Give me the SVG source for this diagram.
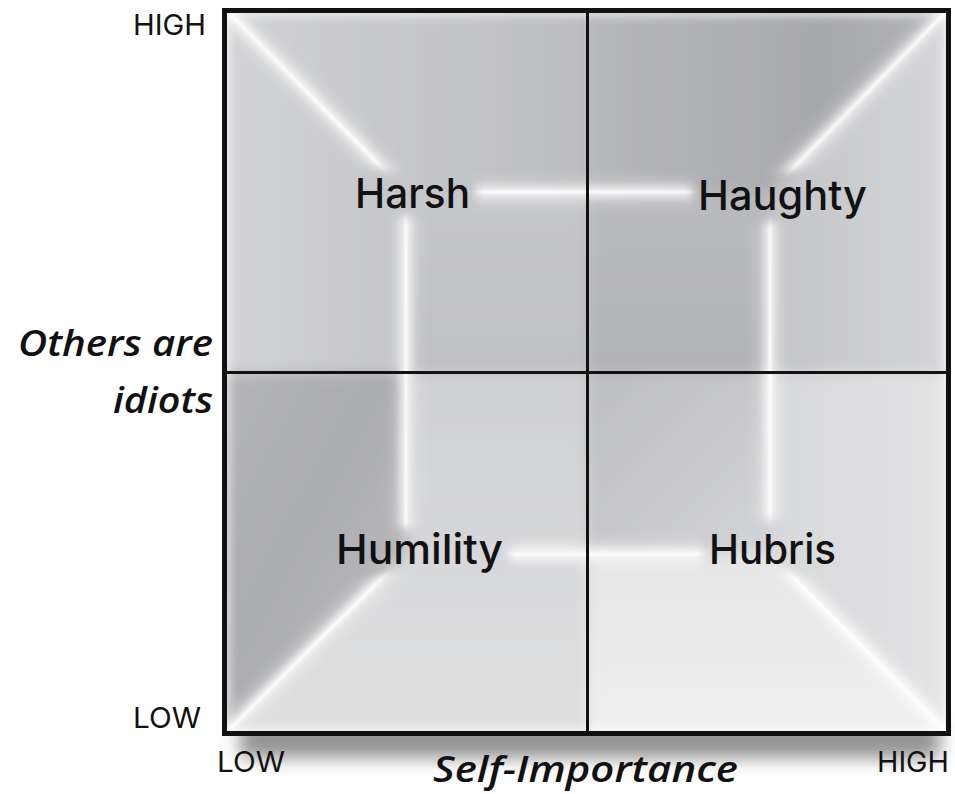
<svg xmlns="http://www.w3.org/2000/svg" width="955" height="794" viewBox="0 0 955 794">
  <style>
    .ax { font-family: "Inter", "Lato", "Liberation Sans", sans-serif; font-size: 29px; font-weight: 400; fill: #111; }
    .q { font-family: "Inter", "Lato", "Liberation Sans", sans-serif; font-size: 41px; font-weight: 500; fill: #111; }
    .tt { font-family: "Open Sans", "Lato", "Liberation Sans", sans-serif; font-size: 36px; font-style: italic; font-weight: 600; fill: #111; }
    .wide { stroke: #ffffff; stroke-width: 22; opacity: 0.3; fill: none; }
    .glow { stroke: #ffffff; stroke-width: 9; opacity: 0.8; fill: none; }
    .core { stroke: #ffffff; stroke-width: 2.4; fill: none; }
    .grid { stroke: #111; fill: none; }
  </style>
  <defs>
    <clipPath id="box"><rect x="226" y="12" width="721" height="720"/></clipPath>
    <filter id="soft" x="-10%" y="-10%" width="120%" height="120%"><feGaussianBlur stdDeviation="7"/></filter>
    <filter id="blur8" x="-20%" y="-20%" width="140%" height="140%"><feGaussianBlur stdDeviation="8"/></filter>
    <filter id="blur4" x="-20%" y="-20%" width="140%" height="140%"><feGaussianBlur stdDeviation="4"/></filter>
    <filter id="blur2" x="-20%" y="-20%" width="140%" height="140%"><feGaussianBlur stdDeviation="1"/></filter>
    <filter id="shadow" x="-20%" y="-100%" width="140%" height="300%"><feGaussianBlur stdDeviation="9"/></filter>
    <filter id="holeblur" x="-30%" y="-60%" width="160%" height="220%"><feGaussianBlur stdDeviation="5"/></filter>
    <mask id="lineMask" maskUnits="userSpaceOnUse" x="0" y="0" width="955" height="794">
      <rect x="0" y="0" width="955" height="794" fill="#fff"/>
      <g fill="#000" filter="url(#holeblur)">
        <rect x="352" y="170" width="124" height="46"/>
        <rect x="693" y="172" width="180" height="50"/>
        <rect x="331" y="528" width="178" height="46"/>
        <rect x="703" y="520" width="139" height="52"/>
      </g>
    </mask>
    <linearGradient id="tlCeil" x1="0" y1="0" x2="1" y2="0"><stop offset="0" stop-color="#d2d3d5"/><stop offset="1" stop-color="#bbbcbf"/></linearGradient>
    <linearGradient id="tlLeft" x1="0" y1="0" x2="1" y2="0"><stop offset="0" stop-color="#d4d5d7"/><stop offset="1" stop-color="#c5c6c9"/></linearGradient>
    <linearGradient id="tlBack" x1="0" y1="0" x2="0" y2="1"><stop offset="0" stop-color="#c6c7ca"/><stop offset="1" stop-color="#bfc0c3"/></linearGradient>
    <linearGradient id="trCeil" x1="0" y1="0" x2="1" y2="0"><stop offset="0" stop-color="#b7b8bb"/><stop offset="0.6" stop-color="#a7a8ab"/><stop offset="1" stop-color="#b4b5b8"/></linearGradient>
    <linearGradient id="trBack" x1="0" y1="0" x2="0" y2="1"><stop offset="0" stop-color="#b9babd"/><stop offset="1" stop-color="#b3b4b7"/></linearGradient>
    <linearGradient id="trRight" x1="0" y1="0" x2="1" y2="0"><stop offset="0" stop-color="#c4c5c8"/><stop offset="1" stop-color="#d6d7d9"/></linearGradient>
    <linearGradient id="blLeft" x1="0" y1="0" x2="1" y2="1"><stop offset="0" stop-color="#b5b6b9"/><stop offset="0.45" stop-color="#aaabae"/><stop offset="1" stop-color="#c4c5c7"/></linearGradient>
    <linearGradient id="blBack" x1="0" y1="0" x2="0" y2="1"><stop offset="0" stop-color="#d0d1d3"/><stop offset="1" stop-color="#d6d7d9"/></linearGradient>
    <linearGradient id="blFloor" x1="0" y1="0" x2="0" y2="1"><stop offset="0" stop-color="#d7d8da"/><stop offset="1" stop-color="#e0e0e1"/></linearGradient>
    <linearGradient id="brBack" x1="0" y1="0" x2="1" y2="1"><stop offset="0" stop-color="#bcbdc0"/><stop offset="1" stop-color="#d3d4d6"/></linearGradient>
    <linearGradient id="brRight" x1="0" y1="0" x2="1" y2="0"><stop offset="0" stop-color="#d7d8da"/><stop offset="1" stop-color="#e5e5e6"/></linearGradient>
    <linearGradient id="brFloor" x1="0" y1="0" x2="0" y2="1"><stop offset="0" stop-color="#e6e6e7"/><stop offset="1" stop-color="#f1f1f1"/></linearGradient>
  </defs>

  <rect x="0" y="0" width="955" height="794" fill="#ffffff"/>

  <!-- shadow under the box -->
  <rect x="240" y="722" width="700" height="36" fill="#6e6e6e" opacity="0.75" filter="url(#shadow)"/>

  <!-- room shading -->
  <g id="shading" clip-path="url(#box)">
    <g filter="url(#soft)">
      <polygon points="200,-10 588,-10 588,192 406,192" fill="url(#tlCeil)"/>
      <polygon points="200,-10 406,192 406,373 200,373" fill="url(#tlLeft)"/>
      <polygon points="406,192 588,192 588,373 406,373" fill="url(#tlBack)"/>
      <polygon points="588,-10 975,-10 770,192 588,192" fill="url(#trCeil)"/>
      <polygon points="588,192 770,192 770,373 588,373" fill="url(#trBack)"/>
      <polygon points="770,192 975,-10 975,373 770,373" fill="url(#trRight)"/>
      <polygon points="200,373 406,373 406,554 200,760" fill="url(#blLeft)"/>
      <polygon points="406,373 588,373 588,554 406,554" fill="url(#blBack)"/>
      <polygon points="200,760 406,554 588,554 588,760" fill="url(#blFloor)"/>
      <polygon points="588,373 770,373 770,554 588,554" fill="url(#brBack)"/>
      <polygon points="770,373 975,373 975,760 770,554" fill="url(#brRight)"/>
      <polygon points="588,554 770,554 975,760 588,760" fill="url(#brFloor)"/>
    </g>
    <rect x="226" y="12" width="721" height="720" fill="none" stroke="#ffffff" stroke-width="10" opacity="0.55" filter="url(#blur4)"/>
    <g mask="url(#lineMask)">
      <g class="wide" filter="url(#blur8)">
        <line x1="226" y1="10" x2="406" y2="192"/>
        <line x1="948" y1="10" x2="770" y2="192"/>
        <line x1="226" y1="733" x2="406" y2="554"/>
        <line x1="948" y1="733" x2="770" y2="554"/>
        <line x1="406" y1="192" x2="770" y2="192"/>
        <line x1="406" y1="554" x2="770" y2="554"/>
        <line x1="406" y1="192" x2="406" y2="554"/>
        <line x1="770" y1="192" x2="770" y2="554"/>
      </g>
      <g class="glow" filter="url(#blur4)">
        <line x1="226" y1="10" x2="406" y2="192"/>
        <line x1="948" y1="10" x2="770" y2="192"/>
        <line x1="226" y1="733" x2="406" y2="554"/>
        <line x1="948" y1="733" x2="770" y2="554"/>
        <line x1="406" y1="192" x2="770" y2="192"/>
        <line x1="406" y1="554" x2="770" y2="554"/>
        <line x1="406" y1="192" x2="406" y2="554"/>
        <line x1="770" y1="192" x2="770" y2="554"/>
      </g>
      <g class="core" filter="url(#blur2)">
        <line x1="226" y1="10" x2="406" y2="192"/>
        <line x1="948" y1="10" x2="770" y2="192"/>
        <line x1="226" y1="733" x2="406" y2="554"/>
        <line x1="948" y1="733" x2="770" y2="554"/>
        <line x1="406" y1="192" x2="770" y2="192"/>
        <line x1="406" y1="554" x2="770" y2="554"/>
        <line x1="406" y1="192" x2="406" y2="554"/>
        <line x1="770" y1="192" x2="770" y2="554"/>
      </g>
    </g>
  </g>

  <!-- grid frame -->
  <g id="grid" class="grid">
    <rect x="224.5" y="10.5" width="724" height="723" stroke-width="5"/>
    <line x1="587.5" y1="12" x2="587.5" y2="732" stroke-width="3"/>
    <line x1="226" y1="372.5" x2="947" y2="372.5" stroke-width="3"/>
  </g>

  <g id="connectors"></g>

  <!-- quadrant labels -->
  <g id="harsh"><text class="q" x="355" y="208" textLength="115" lengthAdjust="spacingAndGlyphs">Harsh</text></g>
  <g id="haughty"><text class="q" x="698" y="210" textLength="169" lengthAdjust="spacingAndGlyphs">Haughty</text></g>
  <g id="humility"><text class="q" x="336" y="564" textLength="167" lengthAdjust="spacingAndGlyphs">Humility</text></g>
  <g id="hubris"><text class="q" x="709" y="564" textLength="127" lengthAdjust="spacingAndGlyphs">Hubris</text></g>

  <!-- axis labels -->
  <g id="y-high"><text class="ax" x="133" y="35" textLength="73" lengthAdjust="spacingAndGlyphs">HIGH</text></g>
  <g id="y-low"><text class="ax" x="133" y="728" textLength="68" lengthAdjust="spacingAndGlyphs">LOW</text></g>
  <g id="x-low"><text class="ax" x="217" y="772" textLength="68" lengthAdjust="spacingAndGlyphs">LOW</text></g>
  <g id="x-high"><text class="ax" x="877" y="772" textLength="72" lengthAdjust="spacingAndGlyphs">HIGH</text></g>
  <g id="y-title">
    <text class="tt" x="18" y="356" textLength="195" lengthAdjust="spacingAndGlyphs">Others are</text>
    <text class="tt" x="113" y="413" textLength="100" lengthAdjust="spacingAndGlyphs">idiots</text>
  </g>
  <g id="x-title"><text class="tt" x="433" y="782" font-size="35" textLength="305" lengthAdjust="spacingAndGlyphs">Self-Importance</text></g>
</svg>
